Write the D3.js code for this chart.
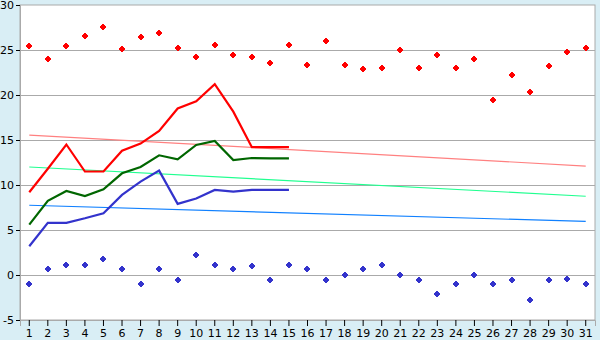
<!DOCTYPE html>
<html><head><meta charset="utf-8">
<script src="https://cdn.jsdelivr.net/npm/d3@7"></script>
<style>body{margin:0;background:#d9eef5;} svg{display:block;}</style>
</head><body><svg id="c" width="600" height="340"></svg>
<script>
const days = d3.range(1, 32);
const yTicks = [-5, 0, 5, 10, 15, 20, 25, 30];
const maxPoints = [25.4,24.0,25.4,26.6,27.6,25.1,26.4,26.9,25.2,24.2,25.6,24.4,24.2,23.6,25.6,23.3,26.0,23.3,22.85,22.95,24.95,22.95,24.4,22.95,24.0,19.5,22.2,20.3,23.2,24.75,25.2];
const minPoints = [-1.0,0.7,1.1,1.1,1.8,0.7,-1.0,0.7,-0.6,2.2,1.1,0.7,1.0,-0.6,1.1,0.7,-0.6,0.0,0.7,1.1,0.0,-0.6,-2.1,-1.0,0.0,-1.0,-0.6,-2.8,-0.6,-0.4,-1.0];
const maxLine = [9.2,11.8,14.5,11.5,11.5,13.8,14.6,16.0,18.5,19.3,21.2,18.15,14.2,14.2,14.2];
const meanLine = [5.6,8.25,9.33,8.78,9.52,11.3,12.0,13.3,12.85,14.45,14.9,12.78,13.0,12.95,12.95];
const minLine = [3.2,5.8,5.8,6.3,6.85,8.9,10.37,11.6,7.9,8.5,9.45,9.26,9.45,9.45,9.45];
const maxTrend = [15.55, 12.1];
const meanTrend = [12.0, 8.75];
const minTrend = [7.75, 5.95];

const svg = d3.select("#c");
const L = 20, R = 595, T = 5, B = 320;
const x = d3.scaleBand().domain(days).range([L, R]);
const cx = d => x(d) + x.bandwidth() / 2;
const y = d3.scaleLinear().domain([-5, 30]).range([B, T]);

svg.append("rect").attr("x", L).attr("y", T).attr("width", R - L).attr("height", B - T).attr("fill", "#fff").attr("stroke", "#aaa");

// gridlines
svg.append("g").selectAll("line").data(yTicks.filter(v => v > -5 && v < 30)).join("line")
  .attr("x1", L).attr("x2", R).attr("y1", d => y(d) + 0.5).attr("y2", d => y(d) + 0.5)
  .attr("stroke", "#aaa").attr("stroke-width", 1.2);

// axes
const ya = svg.append("g").attr("transform", `translate(${L},0)`)
  .call(d3.axisLeft(y).tickValues(yTicks).tickSize(4).tickPadding(2).tickFormat(d => String(d)));
ya.select(".domain").attr("stroke", "#aaa");
ya.selectAll("line").attr("stroke", "#000");
ya.selectAll("text").attr("font-family", "DejaVu Sans").attr("font-size", 11).attr("fill", "#000");

const xa = svg.append("g").attr("transform", `translate(0,${B})`)
  .call(d3.axisBottom(x).tickSize(6).tickPadding(3));
xa.select(".domain").attr("stroke", "#aaa");
xa.selectAll("line").attr("stroke", "#000");
xa.selectAll("text").attr("font-family", "DejaVu Sans").attr("font-size", 11).attr("fill", "#000");

// trend lines
function trend(vals, color) {
  svg.append("line").attr("x1", cx(1)).attr("x2", cx(31))
    .attr("y1", y(vals[0])).attr("y2", y(vals[1]))
    .attr("stroke", color).attr("stroke-width", 1.2);
}
trend(maxTrend, "#ff8080");
trend(meanTrend, "#20ff90");
trend(minTrend, "#1080ff");

const line = d3.line().x((d, i) => cx(i + 1)).y(d => y(d));
function series(vals, color) {
  svg.append("path").attr("d", line(vals)).attr("fill", "none")
    .attr("stroke", color).attr("stroke-width", 2.2).attr("stroke-linejoin", "miter");
}
series(maxLine, "#ff0000");
series(meanLine, "#006600");
series(minLine, "#3333cc");

const marker = "M-1,-3h2v1h1v1h1v2h-1v1h-1v1h-2v-1h-1v-1h-1v-2h1v-1h1z";
function points(vals, color) {
  svg.append("g").selectAll("path").data(vals).join("path")
    .attr("d", marker)
    .attr("transform", (d, i) => `translate(${Math.round(cx(i + 1))},${Math.round(y(d))})`)
    .attr("fill", color);
}
points(maxPoints, "#ff0000");
points(minPoints, "#3333cc");
</script></body></html>
